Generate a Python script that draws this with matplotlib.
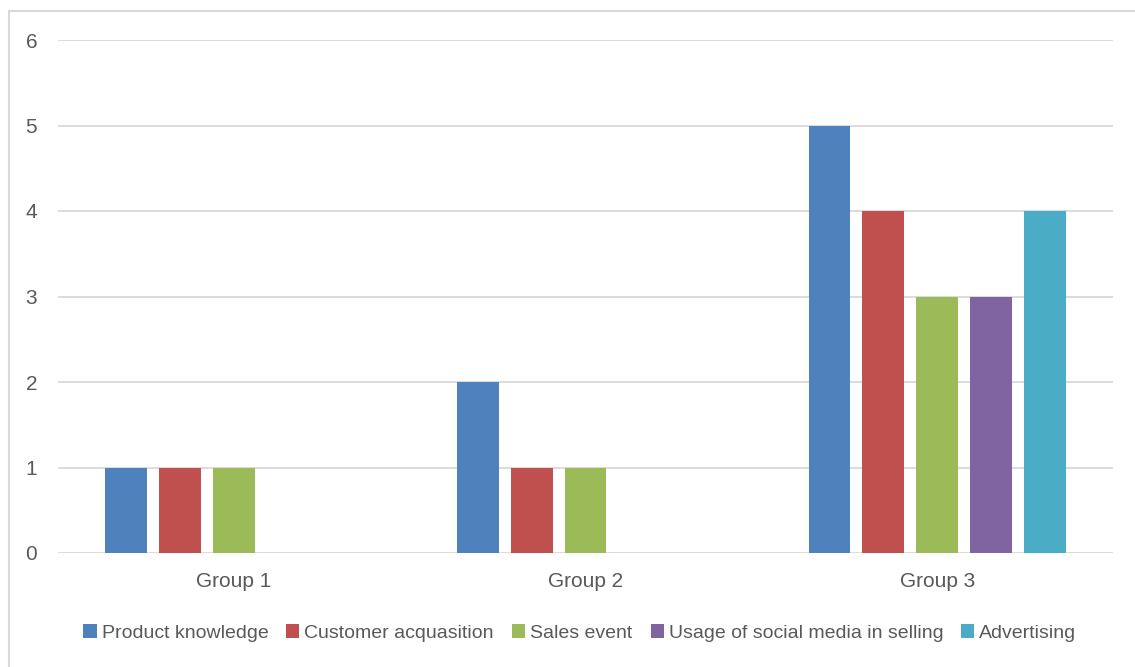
import matplotlib.pyplot as plt
import numpy as np
from matplotlib.patches import Rectangle

groups = ['Group 1', 'Group 2', 'Group 3']
series = ['Product knowledge', 'Customer acquasition', 'Sales event',
          'Usage of social media in selling', 'Advertising']
product_knowledge = [1, 2, 5]
customer_acquasition = [1, 1, 4]
sales_event = [1, 1, 3]
social_media = [0, 0, 3]
advertising = [0, 0, 4]
values = [product_knowledge, customer_acquasition, sales_event, social_media, advertising]
colors = ['#4F81BD', '#C0504D', '#9BBB59', '#8064A2', '#4BACC6']

FONT = ['Liberation Sans', 'DejaVu Sans']
TEXT_COLOR = '#595959'
GRID_COLOR = '#D9D9D9'
FS = 14

plt.rcParams['font.family'] = FONT

fig = plt.figure(figsize=(11.35, 6.67), dpi=100)
ax = fig.add_axes([58 / 1135, 114 / 667, 1055 / 1135, 513 / 667])

x = np.arange(len(groups))
slot = 0.153
width = 0.119
for i, (name, vals, col) in enumerate(zip(series, values, colors)):
    ax.bar(x + (i - 2) * slot, vals, width, color=col, label=name, zorder=3)

ax.set_xlim(-0.5, 2.5)
ax.set_ylim(0, 6)
ax.set_yticks(range(0, 7))
ax.set_xticks(x)
ax.set_xticklabels(groups)
ax.grid(axis='y', color=GRID_COLOR, linewidth=1.3, zorder=0)
for s in ax.spines.values():
    s.set_visible(False)
ax.tick_params(axis='both', length=0, labelsize=FS + 1, colors=TEXT_COLOR)
ax.tick_params(axis='y', pad=15)
ax.tick_params(axis='x', pad=14)

handles, labels = ax.get_legend_handles_labels()
fig.legend(handles, labels, loc='center', bbox_to_anchor=(580 / 1135, 34 / 667),
           ncol=5, frameon=False, fontsize=FS, labelcolor=TEXT_COLOR,
           handlelength=0.67, handleheight=0.67, handletextpad=0.26,
           columnspacing=0.93)

fig.patches.append(Rectangle((9 / 1135, -0.1), 2, 1.1 - 11 / 667,
                             transform=fig.transFigure, fill=False,
                             edgecolor=GRID_COLOR, linewidth=1.5))

fig.savefig('out.png', dpi=100)
